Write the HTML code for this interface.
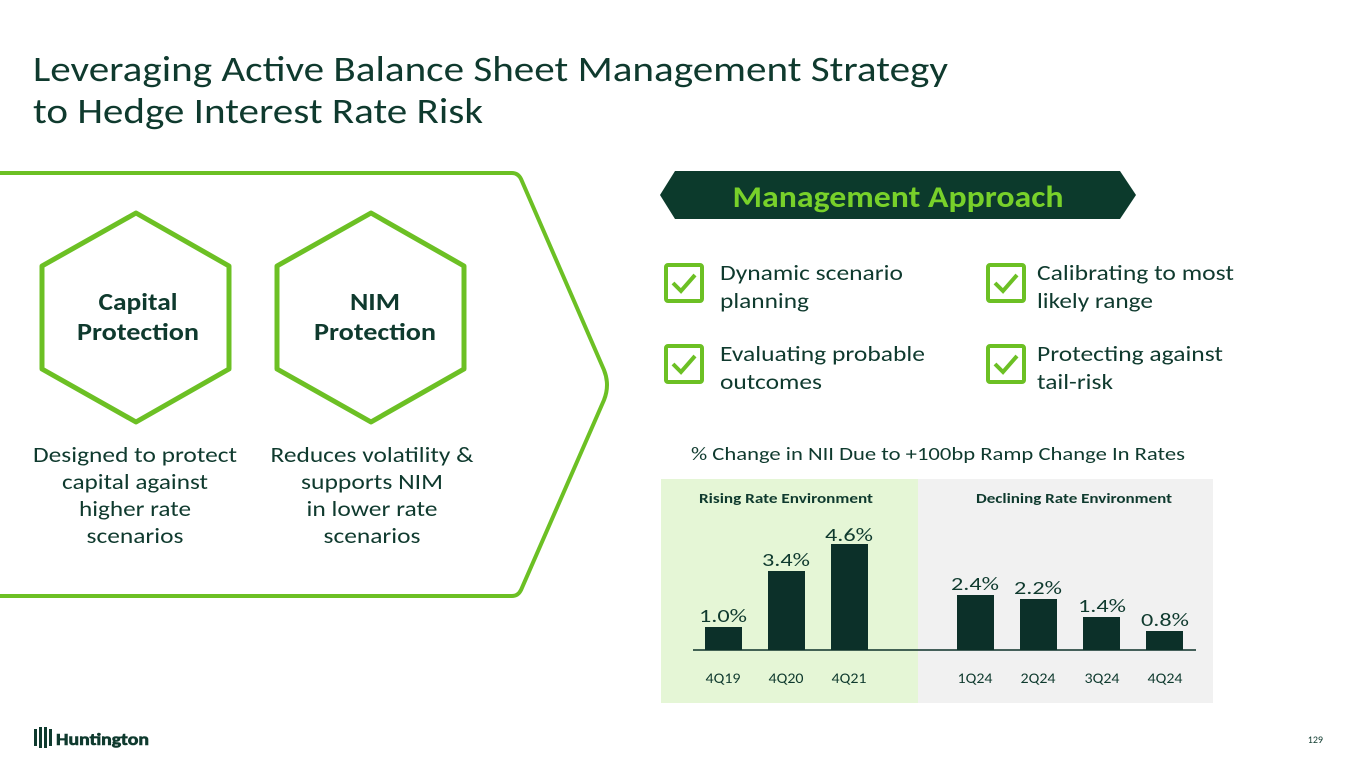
<!DOCTYPE html>
<html><head><meta charset="utf-8"><style>
html,body{margin:0;padding:0;background:#fff}
body{width:1365px;height:768px;overflow:hidden;position:relative;font-family:"Liberation Sans",Carlito,sans-serif}
</style></head><body>
<svg width="1365" height="768" viewBox="0 0 1365 768" xmlns="http://www.w3.org/2000/svg" style="position:absolute;left:0;top:0" font-family="Carlito, 'Liberation Sans', sans-serif">
<g lengthAdjust="spacingAndGlyphs">
<text x="33" y="81" font-size="36" fill="#0f3a2e" textLength="915" lengthAdjust="spacingAndGlyphs">Leveraging Active Balance Sheet Management Strategy</text>
<text x="33" y="123" font-size="36" fill="#0f3a2e" textLength="450" lengthAdjust="spacingAndGlyphs">to Hedge Interest Rate Risk</text>
</g>
<path d="M-10 173 L512 173 Q518 173 521 179 L604 370 Q610 385 604 400 L521 590 Q518 596 512 596 L-10 596" fill="none" stroke="#6cc024" stroke-width="4"/>
<path d="M136 213 L229 266 L229 369 L136 422 L42 369 L42 266 Z" fill="none" stroke="#6cc024" stroke-width="5" stroke-linejoin="round"/>
<path d="M371 213 L464 266 L464 369 L371 422 L277 369 L277 266 Z" fill="none" stroke="#6cc024" stroke-width="5" stroke-linejoin="round"/>
<g font-weight="bold" font-size="24" fill="#0f3a2e" text-anchor="middle">
<text x="138" y="310" textLength="79" lengthAdjust="spacingAndGlyphs">Capital</text><text x="138" y="340" textLength="122" lengthAdjust="spacingAndGlyphs">Protection</text>
<text x="375" y="310" textLength="50" lengthAdjust="spacingAndGlyphs">NIM</text><text x="375" y="340" textLength="122" lengthAdjust="spacingAndGlyphs">Protection</text>
</g>
<g font-size="22" fill="#0f3a2e" text-anchor="middle">
<text x="135" y="462" textLength="204" lengthAdjust="spacingAndGlyphs">Designed to protect</text><text x="135" y="489" textLength="146" lengthAdjust="spacingAndGlyphs">capital against</text><text x="135" y="516" textLength="112" lengthAdjust="spacingAndGlyphs">higher rate</text><text x="135" y="543" textLength="97" lengthAdjust="spacingAndGlyphs">scenarios</text>
<text x="372" y="462" textLength="203" lengthAdjust="spacingAndGlyphs">Reduces volatility &amp;</text><text x="372" y="489" textLength="142" lengthAdjust="spacingAndGlyphs">supports NIM</text><text x="372" y="516" textLength="131" lengthAdjust="spacingAndGlyphs">in lower rate</text><text x="372" y="543" textLength="97" lengthAdjust="spacingAndGlyphs">scenarios</text>
</g>
<path d="M675 171 L1120 171 L1136 195 L1120 219 L675 219 L660 195 Z" fill="#0c3a2c"/>
<text x="898" y="207" font-size="30" font-weight="bold" fill="#78d12a" text-anchor="middle" textLength="331" lengthAdjust="spacingAndGlyphs">Management Approach</text>
<g fill="none" stroke="#6cc024" stroke-width="4">
<rect x="666" y="265" width="36" height="36" rx="2"/><rect x="666" y="346" width="36" height="36" rx="2"/>
<rect x="988" y="265" width="36" height="36" rx="2"/><rect x="988" y="346" width="36" height="36" rx="2"/>
<path d="M673 283 L681 291 L695 275"/><path d="M673 364 L681 372 L695 356"/>
<path d="M995 283 L1003 291 L1017 275"/><path d="M995 364 L1003 372 L1017 356"/>
</g>
<g font-size="22" fill="#0f3a2e">
<text x="720" y="280" textLength="183" lengthAdjust="spacingAndGlyphs">Dynamic scenario</text><text x="720" y="308" textLength="89" lengthAdjust="spacingAndGlyphs">planning</text>
<text x="720" y="361" textLength="205" lengthAdjust="spacingAndGlyphs">Evaluating probable</text><text x="720" y="389" textLength="102" lengthAdjust="spacingAndGlyphs">outcomes</text>
<text x="1037" y="280" textLength="197" lengthAdjust="spacingAndGlyphs">Calibrating to most</text><text x="1037" y="308" textLength="116" lengthAdjust="spacingAndGlyphs">likely range</text>
<text x="1037" y="361" textLength="186" lengthAdjust="spacingAndGlyphs">Protecting against</text><text x="1037" y="389" textLength="76" lengthAdjust="spacingAndGlyphs">tail-risk</text>
</g>
<text x="938" y="460" font-size="18" fill="#0f3a2e" text-anchor="middle" textLength="494" lengthAdjust="spacingAndGlyphs">% Change in NII Due to +100bp Ramp Change In Rates</text>
<rect x="661" y="479" width="257" height="224" fill="#e5f6d6"/>
<rect x="918" y="479" width="295" height="224" fill="#f1f1f1"/>
<g font-size="14" font-weight="bold" fill="#0f3a2e" text-anchor="middle">
<text x="786" y="503" textLength="174" lengthAdjust="spacingAndGlyphs">Rising Rate Environment</text><text x="1074" y="503" textLength="196" lengthAdjust="spacingAndGlyphs">Declining Rate Environment</text>
</g>
<g fill="#0c3029">
<rect x="705" y="627" width="37" height="23"/><rect x="768" y="571" width="37" height="79"/><rect x="831" y="544" width="37" height="106"/>
<rect x="957" y="595" width="37" height="55"/><rect x="1020" y="599" width="37" height="51"/><rect x="1083" y="617" width="37" height="33"/><rect x="1146" y="631" width="37" height="19"/>
</g>
<line x1="693" y1="650" x2="1196" y2="650" stroke="#0c3029" stroke-width="1.5"/>
<g font-size="18" fill="#0f3a2e" text-anchor="middle">
<text x="723" y="622" textLength="48" lengthAdjust="spacingAndGlyphs">1.0%</text><text x="786" y="566" textLength="48" lengthAdjust="spacingAndGlyphs">3.4%</text><text x="849" y="541" textLength="48" lengthAdjust="spacingAndGlyphs">4.6%</text>
<text x="975" y="590" textLength="48" lengthAdjust="spacingAndGlyphs">2.4%</text><text x="1038" y="594" textLength="48" lengthAdjust="spacingAndGlyphs">2.2%</text><text x="1102" y="612" textLength="48" lengthAdjust="spacingAndGlyphs">1.4%</text><text x="1165" y="626" textLength="48" lengthAdjust="spacingAndGlyphs">0.8%</text>
</g>
<g font-size="14" fill="#0f3a2e" text-anchor="middle">
<text x="723" y="683" textLength="35" lengthAdjust="spacingAndGlyphs">4Q19</text><text x="786" y="683" textLength="35" lengthAdjust="spacingAndGlyphs">4Q20</text><text x="849" y="683" textLength="35" lengthAdjust="spacingAndGlyphs">4Q21</text>
<text x="975" y="683" textLength="35" lengthAdjust="spacingAndGlyphs">1Q24</text><text x="1038" y="683" textLength="35" lengthAdjust="spacingAndGlyphs">2Q24</text><text x="1102" y="683" textLength="35" lengthAdjust="spacingAndGlyphs">3Q24</text><text x="1165" y="683" textLength="35" lengthAdjust="spacingAndGlyphs">4Q24</text>
</g>
<g fill="#0f3a2e">
<rect x="34" y="729" width="3" height="17"/><rect x="39" y="727" width="3" height="21"/><rect x="44" y="727" width="3" height="21"/><rect x="49" y="729" width="3" height="17"/>
<text x="56" y="745" font-size="17" font-weight="bold" textLength="93" lengthAdjust="spacingAndGlyphs" stroke="#0f3a2e" stroke-width="0.6">Huntington</text>
</g>
<text x="1323" y="743" font-size="10" fill="#0f3a2e" text-anchor="end">129</text>
</svg>
</body></html>
